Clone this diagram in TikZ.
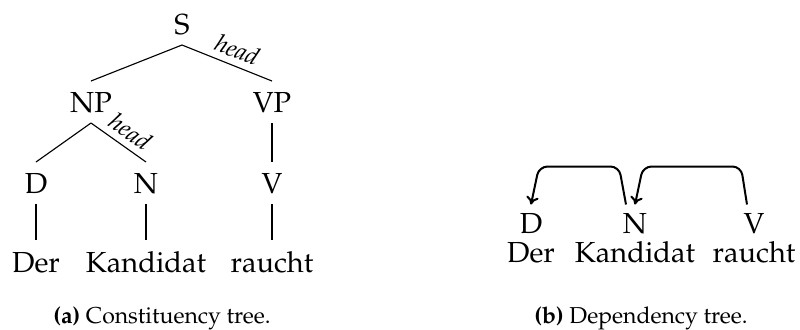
\documentclass[tikz,border=0pt]{standalone}
\usepackage[T1]{fontenc}
\usepackage{mathpazo}
\usetikzlibrary{calc,arrows.meta}

\begin{document}
\begin{tikzpicture}[x=0.4pt,y=-0.4pt,
  cat/.style={inner xsep=0pt, inner ysep=4.2pt, text height=8pt, text depth=0pt,
              anchor=base, font=\fontsize{11.6}{13}\selectfont},
  word/.style={cat, inner ysep=4.8pt},
  depcat/.style={cat, inner ysep=3.2pt},
  branch/.style={line width=0.45pt},
  headlbl/.style={pos=0.55, sloped, above, inner sep=2.6pt,
                  font=\fontsize{9.8}{11}\selectfont\itshape},
  dep/.style={line width=0.8pt, rounded corners=3.4pt, -{To[length=3.2pt,width=5pt]}},
  caption/.style={anchor=base, inner sep=0pt, font=\fontsize{9.2}{11}\selectfont}]
  \useasboundingbox (0,0) rectangle (800,329);

  % constituency tree
  \node[cat] (S)  at (182,34)  {S};
  \node[cat] (NP) at (91,112)  {NP};
  \node[cat] (VP) at (272,112) {VP};
  \node[cat] (D)  at (36,193)  {D};
  \node[cat] (N)  at (146,193) {N};
  \node[cat] (V)  at (272,193) {V};
  \node[word] (wDer) at (36,272)  {Der};
  \node[word] (wKan) at (146,272) {Kandidat};
  \node[word] (wRau) at (272,272) {raucht};

  \draw[branch] (S.south) -- (NP.north);
  \draw[branch] (S.south) -- node[headlbl] {head} (VP.north);
  \draw[branch] (NP.south) -- (D.north);
  \draw[branch] (NP.south) -- node[headlbl] {head} (N.north);
  \draw[branch] (VP.south) -- (V.north);
  \draw[branch] (D.south) -- (wDer.north);
  \draw[branch] (N.south) -- (wKan.north);
  \draw[branch] (V.south) -- (wRau.north);

  \node[caption] (capa) at (162,323) {\textbf{(a)} Constituency tree.};

  % dependency tree
  \node[depcat] (dD) at (531,233) {D};
  \node[depcat] (dN) at (635,233) {N};
  \node[depcat] (dV) at (754,233) {V};
  \node[cat] (tDer) at (531,262) {Der};
  \node[cat] (tKan) at (635,262) {Kandidat};
  \node[cat] (tRau) at (754,262) {raucht};

  \draw[dep] ($(dN.north)+(-9,0)$) -- ++(-7,-38) -- ($(dD.north)+(8,-38)$) -- (dD.north);
  \draw[dep] ($(dV.north)+(-7,0)$) -- ++(-6,-38) -- ($(dN.north)+(8,-38)$) -- (dN.north);

  \node[caption] (capb) at (641,323) {\textbf{(b)} Dependency tree.};
\end{tikzpicture}
\end{document}
